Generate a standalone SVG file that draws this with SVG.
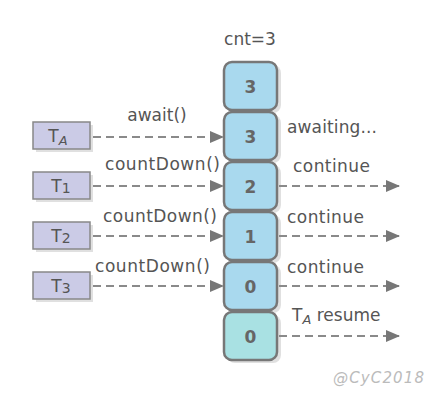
<svg xmlns="http://www.w3.org/2000/svg" width="440" height="403" viewBox="0 0 440 403">
<style>
text{font-family:"DejaVu Sans","Liberation Sans",sans-serif;fill:#555}
.lbl{font-size:17px}
.num{font-size:17px;font-weight:bold;fill:#666;text-anchor:middle}
.cell{fill:#a9d9ee;stroke:#777;stroke-width:2.5}
.cellz{fill:#a9e1e3;stroke:#777;stroke-width:2.5}
.shadow{fill:#ccc;opacity:0.6}
.thr{fill:#cbcbe6;stroke:#888;stroke-width:1.5}
.tn{font-size:17px;fill:#555;text-anchor:middle}
.dash{stroke:#8a8a8a;stroke-width:2.2;stroke-dasharray:8 5;fill:none}
</style>
<defs>
<marker id="ah" viewBox="0 0 14 12" refX="13" refY="6" markerWidth="14" markerHeight="12" markerUnits="userSpaceOnUse" orient="auto">
<path d="M0,0 L14,6 L0,12 Z" fill="#777"/>
</marker>
</defs>
<rect width="440" height="403" fill="#fff"/>
<text x="250" y="45" class="lbl" text-anchor="middle">cnt=3</text>

<g id="counter">
<rect x="227" y="65" width="54" height="48" rx="8" class="shadow"/>
<rect x="227" y="115" width="54" height="48" rx="8" class="shadow"/>
<rect x="227" y="165" width="54" height="48" rx="8" class="shadow"/>
<rect x="227" y="215" width="54" height="48" rx="8" class="shadow"/>
<rect x="227" y="265" width="54" height="48" rx="8" class="shadow"/>
<rect x="227" y="315" width="54" height="48" rx="8" class="shadow"/>
</g>
<g id="cell1"><rect x="224" y="62" width="53" height="48" rx="8" class="cell"/><text x="250.5" y="93" class="num">3</text></g>
<g id="cell2"><rect x="224" y="112" width="53" height="48" rx="8" class="cell"/><text x="250.5" y="143" class="num">3</text></g>
<g id="cell3"><rect x="224" y="162" width="53" height="48" rx="8" class="cell"/><text x="250.5" y="193" class="num">2</text></g>
<g id="cell4"><rect x="224" y="212" width="53" height="48" rx="8" class="cell"/><text x="250.5" y="243" class="num">1</text></g>
<g id="cell5"><rect x="224" y="262" width="53" height="48" rx="8" class="cell"/><text x="250.5" y="293" class="num">0</text></g>
<g id="cell6"><rect x="224" y="312" width="53" height="48" rx="8" class="cellz"/><text x="250.5" y="343" class="num">0</text></g>

<g id="TA"><rect x="36" y="125" width="57" height="27" class="shadow"/><rect x="33" y="122" width="57" height="27" class="thr"/><text x="58" y="142" class="tn">T<tspan font-size="13" font-style="italic" dy="3">A</tspan></text></g>
<g id="T1"><rect x="36" y="175" width="57" height="27" class="shadow"/><rect x="33" y="172" width="57" height="27" class="thr"/><text x="61" y="192" class="tn">T<tspan font-size="14" dy="1">1</tspan></text></g>
<g id="T2"><rect x="36" y="225" width="57" height="27" class="shadow"/><rect x="33" y="222" width="57" height="27" class="thr"/><text x="61" y="242" class="tn">T<tspan font-size="14" dy="1">2</tspan></text></g>
<g id="T3"><rect x="36" y="275" width="57" height="27" class="shadow"/><rect x="33" y="272" width="57" height="27" class="thr"/><text x="61" y="292" class="tn">T<tspan font-size="14" dy="1">3</tspan></text></g>

<g id="connectors">
<line x1="93" y1="137" x2="223" y2="137" class="dash" marker-end="url(#ah)"/>
<line x1="93" y1="186" x2="223" y2="186" class="dash" marker-end="url(#ah)"/>
<line x1="93" y1="236" x2="223" y2="236" class="dash" marker-end="url(#ah)"/>
<line x1="93" y1="286" x2="223" y2="286" class="dash" marker-end="url(#ah)"/>
<line x1="279" y1="186" x2="399" y2="186" class="dash" marker-end="url(#ah)"/>
<line x1="279" y1="236" x2="399" y2="236" class="dash" marker-end="url(#ah)"/>
<line x1="279" y1="286" x2="399" y2="286" class="dash" marker-end="url(#ah)"/>
<line x1="279" y1="336" x2="399" y2="336" class="dash" marker-end="url(#ah)"/>
</g>

<g id="labels">
<text x="157" y="121" class="lbl" text-anchor="middle">await()</text>
<text x="105" y="170" class="lbl" textLength="115">countDown()</text>
<text x="103" y="222" class="lbl" textLength="114">countDown()</text>
<text x="95" y="272" class="lbl" textLength="115">countDown()</text>
<text x="287" y="133" class="lbl" textLength="90">awaiting...</text>
<text x="293" y="172" class="lbl" textLength="77">continue</text>
<text x="287" y="223" class="lbl" textLength="77">continue</text>
<text x="287" y="273" class="lbl" textLength="77">continue</text>
<text x="292" y="321" class="lbl">T<tspan font-size="13" font-style="italic" dy="3">A</tspan><tspan dy="-3"> resume</tspan></text>
<text x="333" y="383" font-size="15" font-style="italic" style="fill:#bbb" textLength="91">@CyC2018</text>
</g>
</svg>
